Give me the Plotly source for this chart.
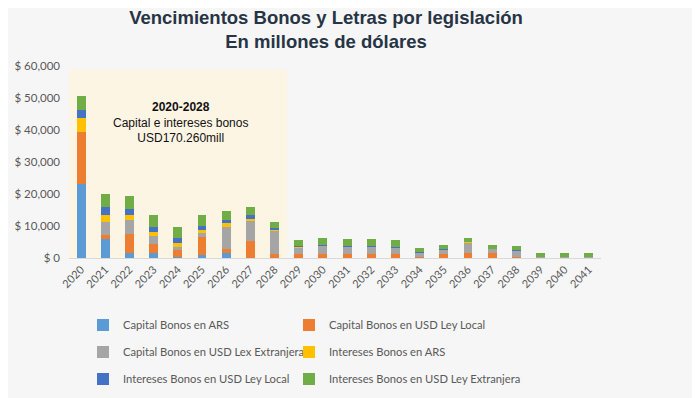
import plotly.graph_objects as go

years = [str(y) for y in range(2020, 2042)]

capital_ars = [23000, 5800, 1450, 1650, 300, 950, 1650, 0, 0,
               0, 0, 0, 0, 0, 0, 0, 0, 0, 0, 0, 0, 0]
capital_usd_local = [16300, 1350, 5900, 2600, 2200, 5600, 1050, 5400, 1150,
                     1250, 1250, 1250, 1200, 1100, 300, 1100, 1650, 1550, 300, 0, 0, 0]
capital_usd_ext = [0, 4200, 4400, 2700, 1050, 1350, 7100, 6150, 7300,
                   2100, 2500, 2300, 2300, 2200, 1500, 1600, 3300, 1300, 2100, 300, 200, 200]
intereses_ars = [4300, 2100, 1550, 1150, 1050, 700, 1050, 700, 500,
                 200, 150, 150, 150, 100, 50, 50, 100, 50, 50, 0, 0, 0]
intereses_usd_local = [2800, 2500, 2100, 1650, 1550, 1450, 1050, 1150, 300,
                       150, 100, 100, 100, 100, 50, 50, 50, 50, 50, 0, 0, 0]
intereses_usd_ext = [4200, 4000, 3850, 3550, 3550, 3250, 2900, 2400, 2100,
                     1900, 2250, 2250, 2100, 2000, 1200, 1150, 1050, 1200, 1250, 1150, 1350, 1300]

series_names = ["Capital Bonos en ARS", "Capital Bonos en USD Ley Local",
                "Capital Bonos en USD Lex Extranjera", "Intereses Bonos en ARS",
                "Intereses Bonos en USD Ley Local", "Intereses Bonos en USD Ley Extranjera"]
series_values = [capital_ars, capital_usd_local, capital_usd_ext,
                 intereses_ars, intereses_usd_local, intereses_usd_ext]
series_colors = ["#5b9bd5", "#ed7d31", "#a5a5a5", "#ffc000", "#4472c4", "#70ad47"]

# page body has an 8px offset; positions below are in screen pixels
OFF = 8
legend_ids = ["legend", "legend2", "legend3", "legend4", "legend5", "legend6"]
legend_pos = [(83, 325), (289, 325), (83, 352), (289, 352), (83, 379), (289, 379)]

fig = go.Figure()
for name, vals, color, lg in zip(series_names, series_values, series_colors, legend_ids):
    fig.add_trace(go.Bar(x=years, y=vals, name=name, marker_color=color,
                         marker_line_width=0, legend=lg, showlegend=True))

legend_layouts = {}
for lg, (lx, ly) in zip(legend_ids, legend_pos):
    legend_layouts[lg] = dict(orientation="h", xref="container", yref="container",
                              x=(lx - OFF) / 700, y=1 - (ly - OFF) / 398,
                              xanchor="left", yanchor="middle", visible=True,
                              bgcolor="rgba(0,0,0,0)", itemwidth=30,
                              font=dict(family="Lato", size=11.2, color="#595959"))

fig.update_layout(
    width=700, height=398, showlegend=True,
    paper_bgcolor="#f6f6f6", plot_bgcolor="#f6f6f6",
    barmode="stack", bargap=0.63,
    margin=dict(l=69 - OFF, r=99 + OFF, t=66 - OFF, b=140 + OFF),
    title=dict(text="Vencimientos Bonos y Letras por legislación<br>En millones de dólares",
               x=(326 - OFF) / 700, xref="container", xanchor="center",
               y=1 - 15.5 / 398, yref="container", yanchor="middle",
               font=dict(family="Liberation Sans", size=18.5, color="#263445", weight="bold")),
    xaxis=dict(type="category", tickangle=-45, showgrid=False, showline=True,
               linecolor="#d9d9d9", linewidth=1, ticks="",
               tickfont=dict(family="Lato", size=11, color="#595959"),
               range=[-0.5, 21.5], automargin=False),
    yaxis=dict(range=[0, 60000], dtick=10000, tickprefix="$ ", tickformat=",",
               showgrid=False, zeroline=False, showline=False, ticklabelstandoff=8,
               tickfont=dict(family="Lato", size=11.5, color="#595959"), automargin=False),
    shapes=[dict(type="rect", xref="x", yref="y", x0=-0.64, x1=8.51, y0=0, y1=58750,
                 fillcolor="#fdf5e4", line_width=0, layer="below")],
    annotations=[dict(x=4.12, y=42200, xref="x", yref="y", showarrow=False,
                      text="<b>2020-2028</b><br>Capital e intereses bonos<br>USD170.260mill",
                      font=dict(family="Liberation Sans", size=12, color="#111111"),
                      align="center")],
    **legend_layouts,
)

fig.write_html("out.html")
